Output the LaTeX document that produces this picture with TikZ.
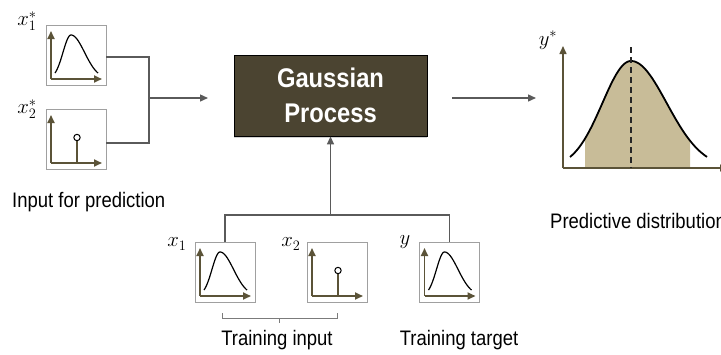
\documentclass[tikz,border=0pt]{standalone}
\usepackage{fontspec}
\setmainfont{Liberation Sans}[FakeStretch=0.88]
\usetikzlibrary{arrows.meta,shadows}

\definecolor{gpfill}{HTML}{4B4431}
\definecolor{axisol}{HTML}{5B5338}
\definecolor{boxgray}{HTML}{A0A0A0}
\definecolor{wire}{HTML}{5A5A5A}
\definecolor{bandtan}{HTML}{C8BC98}

\begin{document}
\begin{tikzpicture}[x=1pt,y=-1pt,
  wirestyle/.style={draw=wire, line width=1.4pt},
  arrowwire/.style={wirestyle, -{Triangle[length=8pt,width=7pt]}},
  axisline/.style={draw=axisol, line width=1.8pt, -{Triangle[length=8pt,width=7pt]}},
  curveline/.style={draw=black, line width=1.2pt},
  plotbox/.style={draw=boxgray, line width=0.8pt, fill=white,
    minimum width=60pt, minimum height=60pt, inner sep=0pt, outer sep=0pt},
  gpbox/.style={draw=black, line width=0.8pt, fill=gpfill, text=white,
    minimum width=193pt, minimum height=81pt, align=center,
    font=\fontsize{27}{35}\selectfont\bfseries,
    drop shadow={shadow xshift=0pt, shadow yshift=-2pt, opacity=0.35}},
  caption/.style={font=\fontsize{21}{25}\selectfont, inner sep=0pt},
  mathlabel/.style={font=\fontsize{21}{24}\selectfont, inner sep=0pt},
  gausspic/.pic={
    \draw[axisline] (5,54) -- (5,6);
    \draw[axisline] (5,54) -- (56,54);
    \draw[curveline] plot[domain=9:25,samples=30]
        (\x,{54-44*exp(-(\x-25)*(\x-25)/128)})
      -- plot[domain=25:52,samples=40]
        (\x,{54-44*exp(-(\x-25)*(\x-25)/364.5)});
  },
  stempic/.pic={
    \draw[axisline] (5,54) -- (5,6);
    \draw[axisline] (5,54) -- (56,54);
    \draw[draw=axisol, line width=1.6pt] (31,54) -- (31,32);
    \draw[black, line width=1pt, fill=white] (31,28.5) circle (3.2pt);
  }
]
\useasboundingbox (0,0) rectangle (721,354);

% ---- inputs for prediction ----
\node[plotbox] (b1) at (76,55) {};
\pic at (b1.north west) {gausspic};
\node[plotbox] (b2) at (76,139) {};
\pic at (b2.north west) {stempic};
\node[mathlabel] (l1) at (27,21) {$x_1^*$};
\node[mathlabel] (l2) at (27,109) {$x_2^*$};
\node[caption, anchor=west] (ip) at (12,202) {Input for prediction};

% ---- Gaussian process block ----
\node[gpbox] (gp) at (330.5,95.5) {Gaussian\\Process};

\coordinate (join) at (149,98);
\coordinate (gpin) at (208,98);
\draw[wirestyle] ([yshift=-2pt]b1.east) -| (join);
\draw[wirestyle] ([yshift=-4pt]b2.east) -| (join);
\draw[arrowwire] (join) -- (gpin);

% ---- training data ----
\node[plotbox] (bx1) at (225,272) {};
\pic at (bx1.north west) {gausspic};
\node[plotbox] (bx2) at (337,272) {};
\pic at (bx2.north west) {stempic};
\node[plotbox] (by) at (449.5,272) {};
\pic at (by.north west) {gausspic};
\node[mathlabel] (lx1) at (177,244) {$x_1$};
\node[mathlabel] (lx2) at (291,244) {$x_2$};
\node[mathlabel] (ly) at (405,242) {$y$};

\coordinate (hub) at (330.5,215);
\draw[wirestyle] (bx1.north) |- (hub) -| (by.north);
\draw[arrowwire] (hub) -- (gp.south);

% bracket grouping the training inputs
\draw[draw=wire!80, line width=1pt]
  ([xshift=-3pt,yshift=-11pt]bx1.south) -- ([xshift=-3pt,yshift=-16pt]bx1.south)
  -- ([yshift=-16pt]bx2.south) -- ([yshift=-11pt]bx2.south);
\draw[draw=wire!80, line width=1pt] (279,318) -- (279,323);
\node[caption] (ti) at (277,340) {Training input};
\node[caption] (tt) at (459,340) {Training target};

% ---- predictive distribution ----
\coordinate (gpout) at (452,98);
\coordinate (pdin) at (536,98);
\draw[arrowwire] (gpout) -- (pdin);

\fill[bandtan] (585,168)
  -- plot[domain=585:631,samples=40] (\x,{168-107*exp(-(\x-631)*(\x-631)/1636)})
  -- plot[domain=631:690,samples=40] (\x,{168-107*exp(-(\x-631)*(\x-631)/2549)})
  -- (690,168) -- cycle;
\draw[axisline, line width=1.5pt] (563,168) -- (563,46);
\draw[axisline, line width=1.5pt] (563,168) -- (728,168);
\draw[curveline, line width=1.8pt]
  plot[domain=570:631,samples=50] (\x,{168-107*exp(-(\x-631)*(\x-631)/1636)})
  -- plot[domain=631:707,samples=50] (\x,{168-107*exp(-(\x-631)*(\x-631)/2549)});
\draw[black!85, line width=1.5pt, dash pattern=on 6pt off 4pt] (631,47) -- (631,168);
\node[mathlabel] (lys) at (548,40) {$y^*$};
\node[caption, anchor=west] (pd) at (550,221) {Predictive distribution};
\end{tikzpicture}
\end{document}
